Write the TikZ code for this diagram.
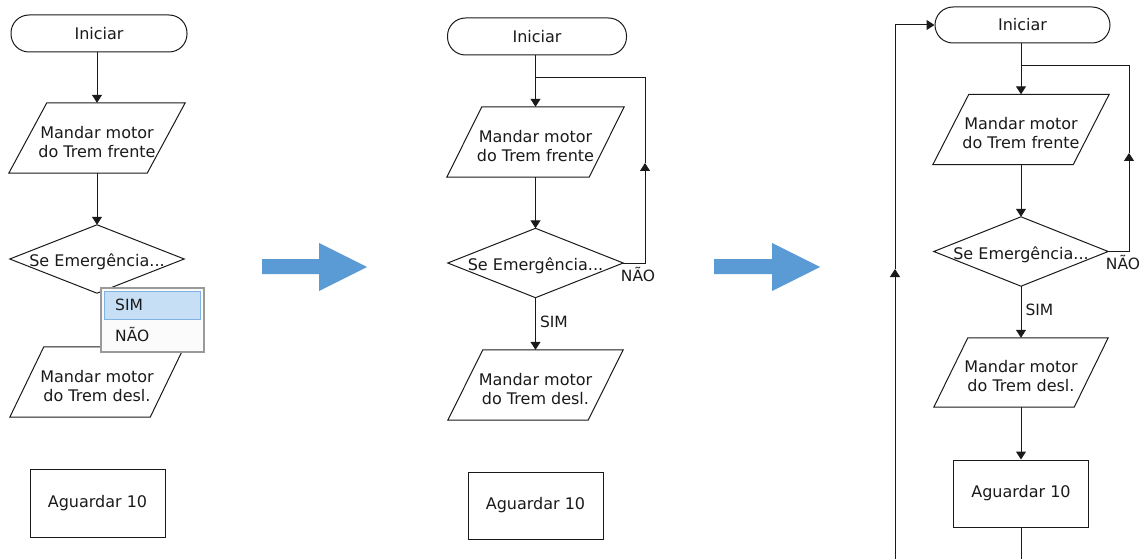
\documentclass[tikz,border=0pt]{standalone}
\usepackage{fontspec}
\setmainfont{DejaVu Sans}
\usetikzlibrary{arrows.meta}
\definecolor{bigblue}{HTML}{5B9BD5}
\definecolor{linec}{HTML}{1A1A1A}
\definecolor{selfill}{HTML}{C7DFF5}
\definecolor{selline}{HTML}{7FB2E5}
\definecolor{ddfill}{HTML}{FBFBFB}
\definecolor{ddline}{HTML}{9A9A9A}
\tikzset{
  lbl/.style={font=\fontsize{16}{19}\selectfont, text=linec, align=center, inner sep=0pt},
  box/.style={lbl, draw=linec, line width=1pt},
  ghost/.style={lbl, draw=none},
  term/.style={box, rounded corners=18pt},
  shapeline/.style={draw=linec, line width=1pt},
  conn/.style={draw=linec, line width=1pt},
  arr/.style={conn, -{Triangle[length=8pt,width=10pt]}},
  smalllbl/.style={font=\fontsize{15.5}{18}\selectfont, text=linec, inner sep=0pt},
  bigarrow/.style={fill=bigblue, draw=none}
}
\newcommand\Para[7]{%
  \node[ghost, minimum width=#4pt, minimum height=#5pt] (#1) at (#2,#3) {};
  \node[lbl] (#1-t) at ([yshift=-4pt]#1.center) {#7};
  \draw[shapeline] ([xshift=#6pt]#1.north west) -- ([xshift=#6pt]#1.north east)
    -- ([xshift=-#6pt]#1.south east) -- ([xshift=-#6pt]#1.south west) -- cycle;}
\newcommand\Diam[6]{%
  \node[ghost, minimum width=#4pt, minimum height=#5pt] (#1) at (#2,#3) {};
  \node[lbl] (#1-t) at ([yshift=-3pt]#1.center) {#6};
  \draw[shapeline] (#1.north) -- (#1.east) -- (#1.south) -- (#1.west) -- cycle;}
\begin{document}
\begin{tikzpicture}[x=1pt,y=-1pt]
\useasboundingbox (0,0) rectangle (1141,559);

% ---------------- Panel 1 ----------------
\node[term, minimum width=176pt, minimum height=37pt] (s1) at (99,33.5) {Iniciar};
\Para{p1a}{97}{138}{138}{70}{19}{Mandar motor\\do Trem frente}
\Diam{d1}{97}{259}{174}{68}{Se Emergência...}
\Para{p1b}{97}{382}{140}{70}{17}{Mandar motor\\do Trem desl.}
\node[box, minimum width=135pt, minimum height=68pt] (a1) at (97.5,503) {\raisebox{-2pt}{Aguardar 10}};
\draw[arr] (s1.south -| p1a.north) -- (p1a.north);
\draw[arr] (p1a.south) -- (d1.north);
% dropdown
\node[draw=ddline, fill=ddfill, line width=1.3pt, minimum width=103pt, minimum height=64pt, inner sep=0pt] (dd) at (152.5,320) {};
\node[draw=selline, fill=selfill, line width=0.9pt, minimum width=96pt, minimum height=28pt, inner sep=0pt] (ddsel) at (152,305) {};
\node[smalllbl, anchor=west] (ddsim) at (115,305) {SIM};
\node[smalllbl, anchor=west] (ddnao) at (115,334) {NÃO};

% big arrows
\fill[bigarrow] (262,259) -- (319,259) -- (319,243) -- (367,267) -- (319,291) -- (319,274) -- (262,274) -- cycle;
\fill[bigarrow] (714,259) -- (772,259) -- (772,243) -- (820,267) -- (772,291) -- (772,274) -- (714,274) -- cycle;

% ---------------- Panel 2 ----------------
\node[term, minimum width=179pt, minimum height=37pt] (s2) at (537,36.5) {Iniciar};
\Para{p2a}{535.5}{142}{142}{70}{17.5}{Mandar motor\\do Trem frente}
\Diam{d2}{535.5}{263}{175}{69}{Se Emergência...}
\Para{p2b}{535.5}{385}{140}{70}{17.5}{Mandar motor\\do Trem desl.}
\node[box, minimum width=135pt, minimum height=67pt] (a2) at (535.5,505.5) {\raisebox{-2pt}{Aguardar 10}};
\coordinate (j2) at (535.5,78);
\coordinate (r2) at (645,78);
\coordinate (m2) at (645,163);
\draw[arr] (s2.south -| p2a.north) -- (p2a.north);
\draw[arr] (p2a.south) -- (d2.north);
\draw[arr] (d2.south) -- node[smalllbl, anchor=west, xshift=4pt, yshift=2pt] (sim2) {SIM} (p2b.north);
\draw[arr] (d2.east) -- (d2.east -| r2) -- (m2);
\draw[conn] (m2) -- (r2) -- (j2);
\node[smalllbl] (nao2) at (638,274) {NÃO};

% ---------------- Panel 3 ----------------
\node[term, minimum width=175pt, minimum height=36pt] (s3) at (1022.5,25) {Iniciar};
\Para{p3a}{1021}{129.5}{140}{70}{18}{Mandar motor\\do Trem frente}
\Diam{d3}{1021}{251.5}{174}{69}{Se Emergência...}
\Para{p3b}{1021}{372.5}{140}{69}{17}{Mandar motor\\do Trem desl.}
\node[box, minimum width=135pt, minimum height=67pt] (a3) at (1021,493.5) {\raisebox{-2pt}{Aguardar 10}};
\coordinate (j3) at (1021,66);
\coordinate (r3) at (1129,66);
\coordinate (m3) at (1129,153);
\coordinate (b3) at (1021,559);
\coordinate (lb3) at (895,559);
\coordinate (lm3) at (895,269);
\draw[arr] (s3.south -| p3a.north) -- (p3a.north);
\draw[arr] (p3a.south) -- (d3.north);
\draw[arr] (d3.south) -- node[smalllbl, anchor=west, xshift=4pt, yshift=2pt] (sim3) {SIM} (p3b.north);
\draw[arr] (p3b.south) -- (a3.north);
\draw[conn] (a3.south) -- (b3);
\draw[arr] (d3.east) -- (d3.east -| r3) -- (m3);
\draw[conn] (m3) -- (r3) -- (j3);
\node[smalllbl] (nao3) at (1123,262) {NÃO};
\draw[arr] (lb3) -- (lm3);
\draw[arr] (lm3) -- (lm3 |- s3.west) -- (s3.west);
\end{tikzpicture}
\end{document}
